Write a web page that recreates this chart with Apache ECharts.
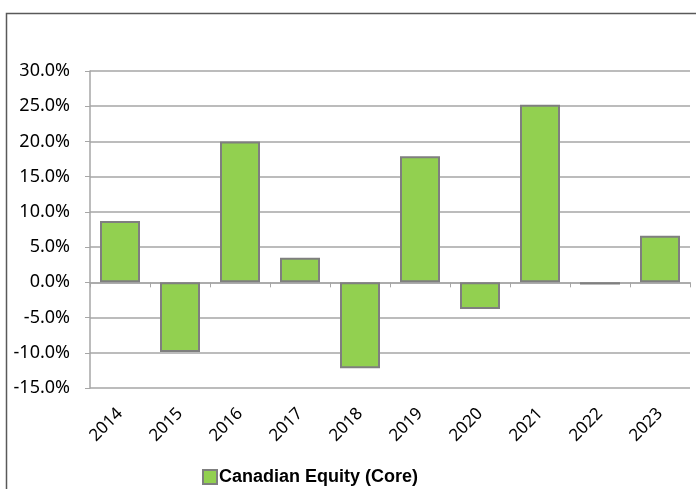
<!DOCTYPE html>
<html>
<head>
<meta charset="utf-8">
<script src="https://cdn.jsdelivr.net/npm/echarts@6/dist/echarts.min.js"></script>
<style>
  html, body { margin: 0; padding: 0; background: #fff; }
  #chart { width: 696px; height: 489px; }
</style>
</head>
<body>
<div id="chart"></div>
<script>
// values
var years = ['2014', '2015', '2016', '2017', '2018', '2019', '2020', '2021', '2022', '2023'];
var returns = [8.7, -9.9, 20.0, 3.5, -12.2, 17.9, -3.8, 25.2, -0.3, 6.6];
var seriesName = 'Canadian Equity (Core)';

var chart = echarts.init(document.getElementById('chart'));

var option = {
    animation: false,
    backgroundColor: '#fff',
    graphic: [{
        type: 'rect',
        shape: { x: 6.5, y: 13.5, width: 700, height: 500 },
        style: { fill: 'none', stroke: '#595959', lineWidth: 1.5 },
        silent: true
    }],
    grid: { left: 90, right: 6, top: 71, height: 317 },
    legend: {
        top: 463,
        left: 197,
        icon: 'rect',
        itemWidth: 14,
        itemHeight: 14,
        itemGap: 4,
        textStyle: {
            fontFamily: 'Liberation Sans',
            fontWeight: 'bold',
            fontSize: 18,
            color: '#000',
            padding: [0, 0, 0, -3]
        },
        data: [seriesName]
    },
    xAxis: {
        type: 'category',
        data: years,
        axisLine: { onZero: true, lineStyle: { color: '#a6a6a6', width: 1.5 } },
        axisTick: { show: true, length: 5, lineStyle: { color: '#a6a6a6' } },
        axisLabel: {
            rotate: 45,
            interval: 0,
            margin: 23,
            color: '#000',
            fontFamily: 'Noto Sans',
            fontSize: 17
        },
        position: 'bottom'
    },
    yAxis: {
        type: 'value',
        min: -15,
        max: 30,
        interval: 5,
        axisLine: { show: true, lineStyle: { color: '#a6a6a6', width: 1.5 } },
        axisTick: { show: true, length: 5, lineStyle: { color: '#a6a6a6' } },
        splitLine: { lineStyle: { color: '#a6a6a6', width: 1.5 } },
        axisLabel: {
            margin: 20,
            color: '#000',
            fontFamily: 'Noto Sans',
            fontSize: 18,
            formatter: function (v) { return v.toFixed(1) + '%'; }
        }
    },
    series: [{
        name: seriesName,
        type: 'bar',
        data: returns,
        barWidth: 40,
        itemStyle: {
            color: '#92d050',
            borderColor: '#7f7f7f',
            borderWidth: 2
        }
    }]
};

chart.setOption(option);
</script>
</body>
</html>
